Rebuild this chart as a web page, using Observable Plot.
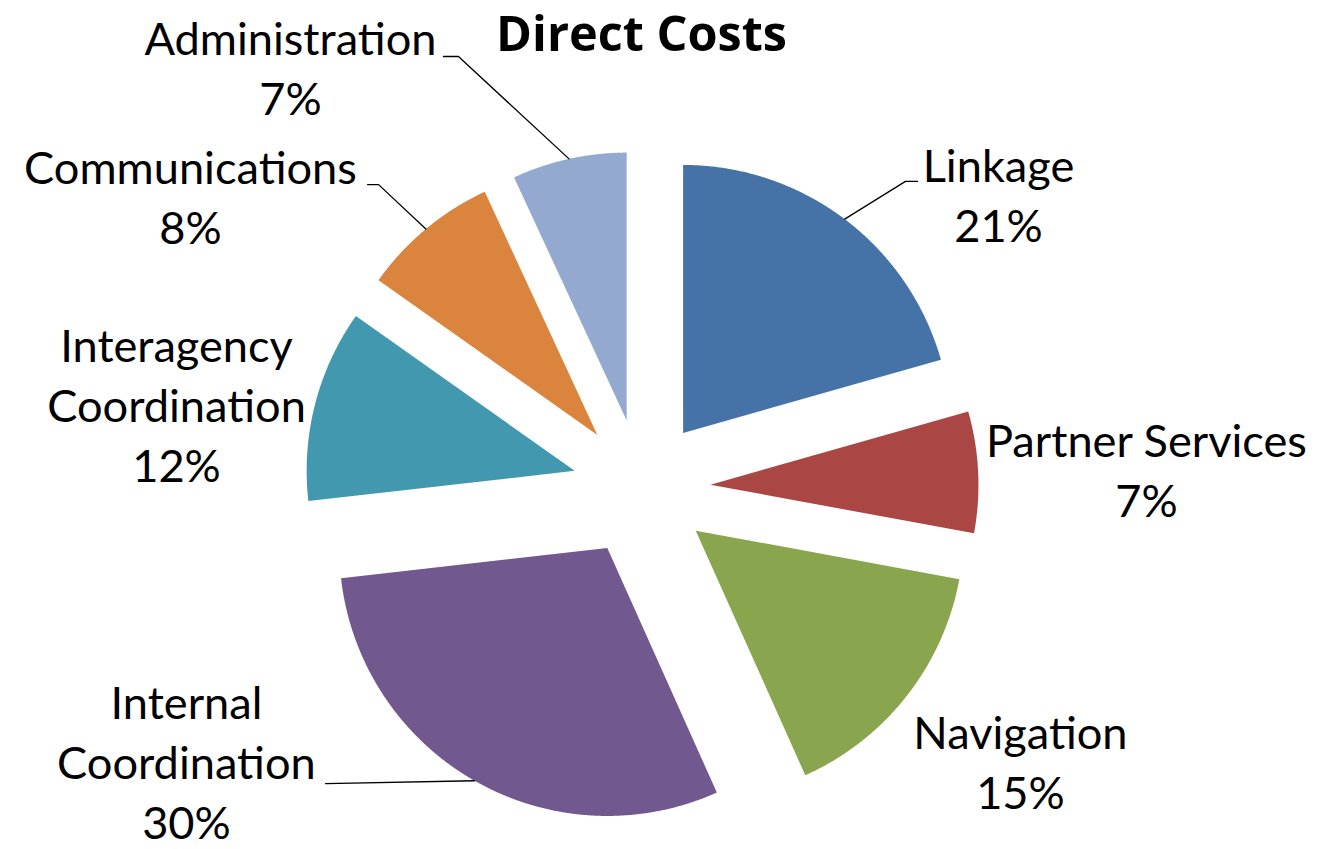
<!DOCTYPE html>
<html>
<head>
<meta charset="utf-8">
<script src="https://cdn.jsdelivr.net/npm/d3@7"></script>
<script src="https://cdn.jsdelivr.net/npm/@observablehq/plot@0.6"></script>
<style>
  html, body { margin: 0; padding: 0; background: #ffffff; }
  #chart { width: 1317px; height: 849px; }
</style>
</head>
<body>
<div id="chart"></div>
<script>
// ---------------- data ----------------
const title = "Direct Costs";
const categories = ["Linkage", "Partner Services", "Navigation", "Internal Coordination",
                    "Interagency Coordination", "Communications", "Administration"];
const values = [20.6, 7.3, 15.4, 29.9, 11.6, 8.3, 6.9];
const colors = ["#4572A7", "#AA4643", "#89A54E", "#71588F", "#4198AF", "#DB843D", "#93A9CF"];
const labelLines = [["Linkage"], ["Partner Services"], ["Navigation"], ["Internal", "Coordination"],
                    ["Interagency", "Coordination"], ["Communications"], ["Administration"]];

// ---------------- layout (pie-radius units, origin at pie centre, y up) ----------------
const W = 1317, H = 849;
const R_PX = 268, CX = 641, CY = 487.5;
const EXPLODE = 0.2575;
// anchor = centre x / baseline of the last line of each label
const labelAnchor = {
  "Linkage": [1.332, 0.917],
  "Partner Services": [1.884, -0.109],
  "Navigation": [1.414, -1.197],
  "Internal Coordination": [-1.698, -1.308],
  "Interagency Coordination": [-1.735, 0.022],
  "Communications": [-1.683, 0.909],
  "Administration": [-1.310, 1.390]
};
// leader line points on the label side (the arc end is computed from the slice)
const leaderFrom = {
  "Linkage": [[1.030, 1.144], [0.985, 1.144]],
  "Internal Coordination": [[-1.179, -1.103]],
  "Communications": [[-1.022, 1.132], [-0.981, 1.132]],
  "Administration": [[-0.739, 1.610], [-0.683, 1.610]]
};

// ---------------- derived ----------------
const data = categories.map((name, i) => ({name, value: values[i], lines: labelLines[i]}));
const total = d3.sum(values);
const arcs = d3.pie().sort(null).value(d => d.value)(data);

const slicePts = [];
const arcMid = {};
for (const a of arcs) {
  const name = a.data.name;
  const mid = (a.startAngle + a.endAngle) / 2;
  const ox = EXPLODE * Math.sin(mid), oy = EXPLODE * Math.cos(mid);
  arcMid[name] = [ox + Math.sin(mid), oy + Math.cos(mid)];
  slicePts.push({name, x: ox, y: oy});
  const n = Math.max(4, Math.ceil((a.endAngle - a.startAngle) / 0.004));
  for (let i = 0; i <= n; i++) {
    const t = a.startAngle + (a.endAngle - a.startAngle) * i / n;
    slicePts.push({name, x: ox + Math.sin(t), y: oy + Math.cos(t)});
  }
  slicePts.push({name, x: ox, y: oy});
}

const leaderPts = [];
for (const name of Object.keys(leaderFrom)) {
  for (const p of leaderFrom[name]) leaderPts.push({name, x: p[0], y: p[1]});
  leaderPts.push({name, x: arcMid[name][0], y: arcMid[name][1]});
}

const labels = data.map(d => ({
  name: d.name,
  x: labelAnchor[d.name][0],
  y: labelAnchor[d.name][1],
  text: [...d.lines, Math.round(d.value / total * 100) + "%"].join("\n")
}));

// font calibration (Calibri substitutes)
const FONT = "Lato";
const TITLE_FONT = "Open Sans";
const ctx = document.createElement("canvas").getContext("2d");
ctx.font = `100px ${FONT}`;
const fs = 100 * 322 / ctx.measureText("Partner Services").width;
ctx.font = `bold 100px "${TITLE_FONT}"`;
const tfs = Math.min(50, 100 * 291 / ctx.measureText(title).width);

const chart = Plot.plot({
  width: W,
  height: H,
  margin: 0,
  x: {domain: [-CX / R_PX, (W - CX) / R_PX], axis: null},
  y: {domain: [-(H - CY) / R_PX, CY / R_PX], axis: null},
  color: {domain: categories, range: colors},
  style: {background: "#ffffff", fontFamily: `${FONT}, sans-serif`, overflow: "visible"},
  marks: [
    Plot.line(slicePts, {x: "x", y: "y", z: "name", fill: "name", stroke: "none", curve: "linear"}),
    Plot.line(leaderPts, {x: "x", y: "y", z: "name", stroke: "#000000", strokeWidth: 1.3, curve: "linear"}),
    Plot.text(labels, {x: "x", y: "y", text: "text", textAnchor: "middle", lineAnchor: "bottom",
                       fontSize: fs, lineHeight: 60 / fs, fill: "#000000"}),
    Plot.text([{t: title, x: 0}], {x: "x", text: "t", frameAnchor: "top", lineAnchor: "bottom",
                       dy: 50, fontSize: tfs, fontWeight: "bold", fontFamily: `"${TITLE_FONT}", sans-serif`,
                       fill: "#000000"})
  ]
});
document.getElementById("chart").appendChild(chart);
</script>
</body>
</html>
